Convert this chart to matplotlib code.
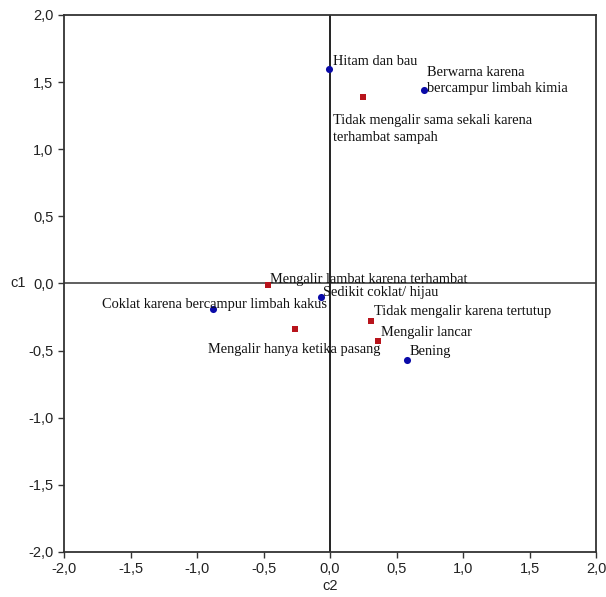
import numpy as np
import matplotlib
matplotlib.use("Agg")
import matplotlib.pyplot as plt
from matplotlib.ticker import FuncFormatter

# blue points (circles)
blue_labels = ['Hitam dan bau', 'Berwarna karena\nbercampur limbah kimia',
               'Sedikit coklat/ hijau', 'Coklat karena bercampur limbah kakus',
               'Bening']
blue_c2 = [-0.01, 0.71, -0.07, -0.88, 0.58]
blue_c1 = [1.60, 1.44, -0.10, -0.19, -0.57]

# red points (squares)
red_labels = ['Tidak mengalir sama sekali karena\nterhambat sampah',
              'Mengalir lambat karena terhambat',
              'Tidak mengalir karena tertutup',
              'Mengalir lancar',
              'Mengalir hanya ketika pasang']
red_c2 = [0.25, -0.47, 0.31, 0.36, -0.26]
red_c1 = [1.39, -0.01, -0.28, -0.43, -0.34]

# label offsets in points
blue_off = [(3, 5), (1.5, 7), (2, 3), (-80, 3.5), (2, 6)]
red_off = [(-22, -23), (2, 4), (2, 7), (2, 6.5), (-63, -15)]

fig = plt.figure(figsize=(6.06, 5.97), dpi=100)
ax = fig.add_axes([0.1056, 0.0754, 0.878, 0.8995])

ax.axhline(0, color='#444444', lw=1.2, zorder=1)
ax.axvline(0, color='#222222', lw=1.4, zorder=1)

ax.scatter(blue_c2, blue_c1, marker='o', s=26, color='#0a0aa8', zorder=3, linewidths=0)
ax.scatter(red_c2, red_c1, marker='s', s=20, color='#b8141c', zorder=3, linewidths=0)

for lab, x, y, off in zip(blue_labels, blue_c2, blue_c1, blue_off):
    ax.annotate(lab, (x, y), xytext=off, textcoords='offset points',
                ha='left', va='center', fontsize=10.4, family='Liberation Serif',
                color='#111111', linespacing=1.35)
for lab, x, y, off in zip(red_labels, red_c2, red_c1, red_off):
    ax.annotate(lab, (x, y), xytext=off, textcoords='offset points',
                ha='left', va='center', fontsize=10.4, family='Liberation Serif',
                color='#111111', linespacing=1.35)

ticks = np.arange(-2, 2.01, 0.5)
ax.set_xlim(-2, 2)
ax.set_ylim(-2, 2)
ax.set_xticks(ticks)
ax.set_yticks(ticks)
fmt = FuncFormatter(lambda v, p: ('%.1f' % v).replace('.', ','))
ax.xaxis.set_major_formatter(fmt)
ax.yaxis.set_major_formatter(fmt)
ax.tick_params(direction='out', length=4, width=1, color='#333333',
               labelsize=10.5, labelcolor='#222222')
for lab in ax.get_xticklabels() + ax.get_yticklabels():
    lab.set_family('Liberation Sans')
for sp in ax.spines.values():
    sp.set_color('#333333')
    sp.set_linewidth(1.3)

ax.set_xlabel('c2', fontsize=10.5, family='Liberation Sans', color='#222222', labelpad=2)
ax.set_ylabel('c1', fontsize=10.5, family='Liberation Sans', color='#222222',
              rotation=0, va='center', ha='center')
ax.yaxis.set_label_coords(-0.087, 0.5)

fig.savefig('out.png', dpi=100)
